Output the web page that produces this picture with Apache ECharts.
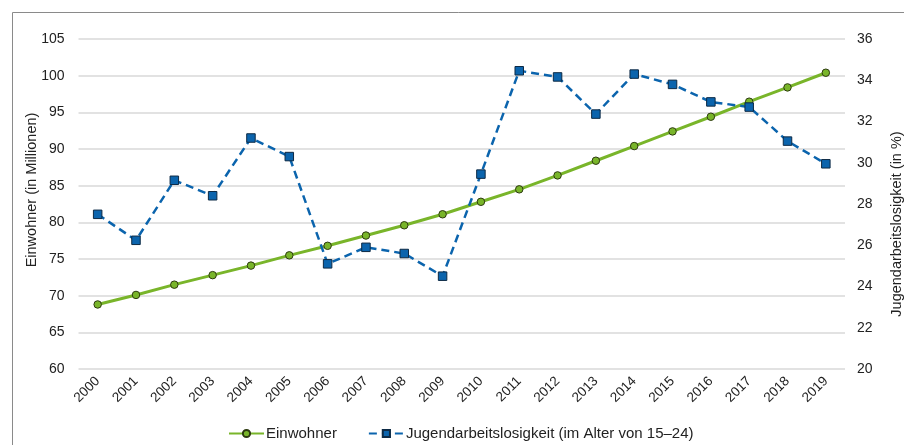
<!DOCTYPE html>
<html><head><meta charset="utf-8">
<script src="https://cdn.jsdelivr.net/npm/echarts@6/dist/echarts.min.js"></script>
<style>html,body{margin:0;padding:0;background:#fff}#c{width:904px;height:445px}</style>
</head><body><div id="c"></div>
<script>
const years = ['2000','2001','2002','2003','2004','2005','2006','2007','2008','2009','2010','2011','2012','2013','2014','2015','2016','2017','2018','2019'];
const einwohner = [68.8,70.1,71.5,72.8,74.1,75.5,76.8,78.2,79.6,81.1,82.8,84.5,86.4,88.4,90.4,92.4,94.4,96.45,98.4,100.4];
const jugendarbeitslosigkeit = [27.5,26.24,29.15,28.4,31.2,30.3,25.1,25.9,25.6,24.5,29.45,34.46,34.16,32.36,34.3,33.8,32.95,32.7,31.05,29.95];
const seriesNames = ['Einwohner','Jugendarbeitslosigkeit (im Alter von 15–24)'];
const leftTitle = 'Einwohner (in Millionen)';
const rightTitle = 'Jugendarbeitslosigkeit (in %)';

const green = '#79b52a', blue = '#0b64ad';
const font = 'Liberation Sans, Arial, sans-serif';
const chart = echarts.init(document.getElementById('c'));
chart.setOption({
  animation: false,
  textStyle: {fontFamily: font, color: '#222'},
  grid: {left: 78.5, right: 59, top: 39, bottom: 76},
  legend: {
    top: 421, left: 223, itemWidth: 35, itemHeight: 9, itemGap: 31,
    textStyle: {fontSize: 15, color: '#222', fontFamily: font, padding: [0, 0, 0, -3]},
    data: seriesNames
  },
  xAxis: {
    type: 'category', data: years, boundaryGap: true,
    axisLine: {show: false}, axisTick: {show: false},
    axisLabel: {rotate: 45, fontSize: 13.5, color: '#222', margin: 10, interval: 0}
  },
  yAxis: [
    {type: 'value', min: 60, max: 105, interval: 5,
     axisLine: {show: false}, axisTick: {show: false},
     axisLabel: {fontSize: 14, color: '#222', margin: 14},
     splitLine: {lineStyle: {color: '#d9d9d9', width: 1.5}}},
    {type: 'value', min: 20, max: 36, interval: 2, position: 'right',
     axisLine: {show: false}, axisTick: {show: false},
     axisLabel: {fontSize: 14, color: '#222', margin: 12},
     splitLine: {show: false}}
  ],
  series: [
    {name: seriesNames[0], type: 'line', yAxisIndex: 0, data: einwohner,
     symbol: 'circle', symbolSize: 7.5,
     lineStyle: {color: green, width: 3},
     itemStyle: {color: green, borderColor: '#2d3a10', borderWidth: 1}},
    {name: seriesNames[1], type: 'line', yAxisIndex: 1, data: jugendarbeitslosigkeit,
     symbol: 'rect', symbolSize: 8.5,
     lineStyle: {color: blue, width: 2.5, type: [8, 5]},
     itemStyle: {color: blue, borderColor: '#0d2a45', borderWidth: 1}}
  ],
  graphic: [
    {type: 'rect', left: 10, top: 10, shape: {width: 920, height: 460},
     style: {fill: 'none', stroke: '#8a8a8a', lineWidth: 1}, silent: true},
    {type: 'text', x: 32, y: 190, rotation: Math.PI / 2,
     style: {text: leftTitle, font: '14.5px ' + font, fill: '#222', align: 'center', verticalAlign: 'middle'}},
    {type: 'text', x: 897, y: 224, rotation: Math.PI / 2,
     style: {text: rightTitle, font: '14.5px ' + font, fill: '#222', align: 'center', verticalAlign: 'middle'}}
  ]
});
</script></body></html>
